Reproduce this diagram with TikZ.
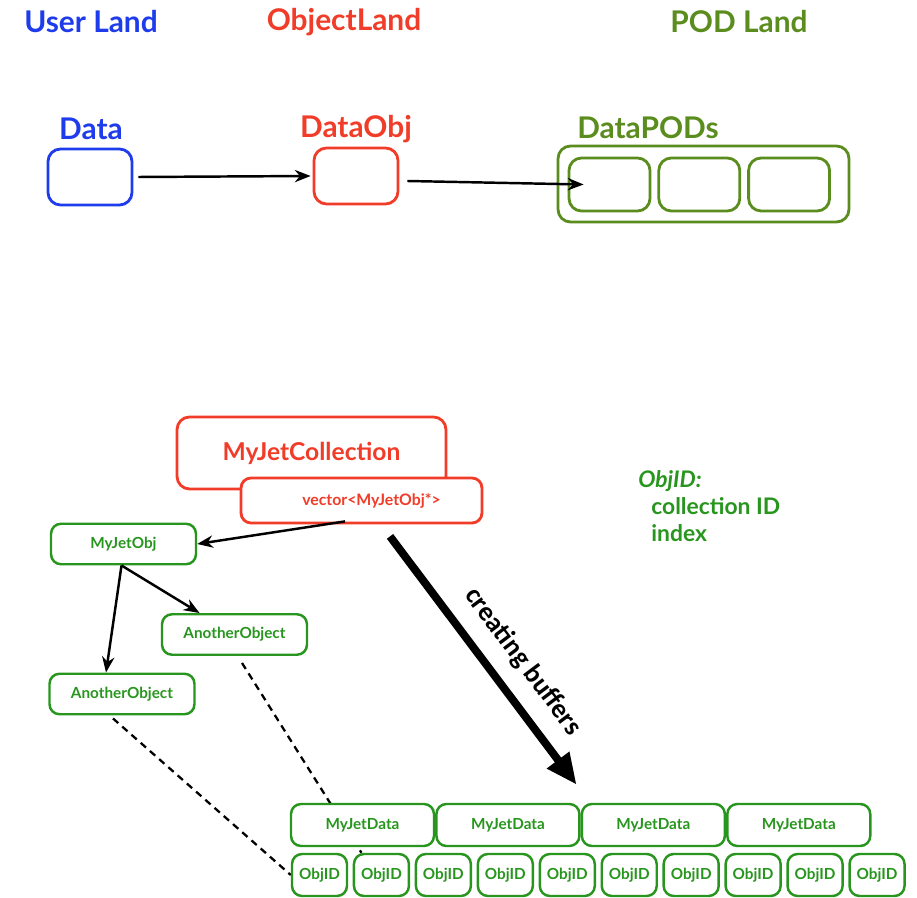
\documentclass[tikz,border=0pt]{standalone}
\usepackage{fontspec}
\setmainfont{Lato}
\newfontfamily\calfont{Carlito}
\usetikzlibrary{positioning, arrows.meta, backgrounds}

\definecolor{userblue}{RGB}{30,60,235}
\definecolor{objred}{RGB}{240,60,40}
\definecolor{podgreen}{RGB}{90,140,30}
\definecolor{jetgreen}{RGB}{40,150,30}

\begin{document}
\begin{tikzpicture}[x=0.02cm, y=-0.02cm,
	title/.style={font=\bfseries\fontsize{17}{19}\selectfont, inner sep=0pt},
	landbox/.style={draw, rounded corners=0.25cm, line width=1.6pt, minimum width=1.68cm, minimum height=1.12cm, fill=white},
	podbox/.style={landbox, draw=podgreen, minimum width=1.62cm, minimum height=1.06cm},
	jetbox/.style={draw=jetgreen, text=jetgreen, rounded corners=0.2cm, line width=1.4pt, fill=white, font=\bfseries\fontsize{8.7}{10}\selectfont, minimum width=2.9cm, minimum height=0.81cm},
	databox/.style={jetbox, minimum width=2.86cm, minimum height=0.84cm},
	idbox/.style={jetbox, minimum width=1.1cm, minimum height=0.84cm, inner sep=0pt},
	link/.style={-{Stealth[length=9pt,width=7pt]}, line width=1.4pt},
	dashlink/.style={dashed, line width=1.3pt, dash pattern=on 4pt off 3pt}]

	\useasboundingbox (0,0) rectangle (917,898);

	% Lands
	\node[title, userblue] (userland) at (91,22) {User Land};
	\node[title, objred] (objland) at (344,22) {ObjectLand};
	\node[title, podgreen] (podland) at (739,22) {POD Land};

	% Data, DataObj, DataPODs
	\node[landbox, draw=userblue] (data) at (90,177) {};
	\node[title, userblue] (datalbl) at (91,129) {Data};
	\node[landbox, draw=objred] (dataobj) at (356,176) {};
	\node[title, objred] (dataobjlbl) at (356,129) {DataObj};
	\node[landbox, draw=podgreen, minimum width=5.82cm, minimum height=1.52cm] (pods) at (703.5,184) {};
	\node[podbox] (pod1) at (609.5,184.5) {};
	\node[podbox, right=0.12cm of pod1] (pod2) {};
	\node[podbox, right=0.12cm of pod2] (pod3) {};
	\node[title, podgreen] (podslbl) at (648,128) {DataPODs};

	\draw[link] ([xshift=0.1cm]data.east) -- ([xshift=-0.04cm]dataobj.west);
	\draw[link] ([xshift=0.16cm,yshift=-0.1cm]dataobj.east) -- ([xshift=0.32cm]pod1.west);

	% Collection
	\node[landbox, draw=objred, text=objred, minimum width=5.38cm, minimum height=1.44cm, font=\bfseries\fontsize{14}{16}\selectfont] (coll) at (311.5,453) {MyJetCollection};
	\node[landbox, draw=objred, text=objred, minimum width=4.82cm, minimum height=0.9cm, rounded corners=0.2cm, font=\bfseries\fontsize{9}{10}\selectfont] (vec) at (361.5,500.5) {\hspace{0.4cm}vector<MyJetObj*>};

	% ObjID note
	\node[anchor=north west, align=left, text=jetgreen, font=\bfseries\fontsize{13}{15.5}\selectfont, inner sep=0pt] (objidnote) at (638,470) {\textit{ObjID:}\\\hspace{0.26cm}collection ID\\\hspace{0.26cm}index};

	% Objects
	\node[jetbox] (jetobj) at (123.5,544) {MyJetObj};
	\node[jetbox] (another1) at (234.5,634.5) {AnotherObject};
	\node[jetbox] (another2) at (122,694) {AnotherObject};

	\draw[link] ([xshift=-0.33cm,yshift=0.06cm]vec.south) -- (jetobj.east);
	\draw[link] ([xshift=-0.04cm]jetobj.south) -- ([xshift=-0.7cm]another1.north);
	\draw[link] ([xshift=-0.04cm]jetobj.south) -- ([xshift=-0.32cm]another2.north);

	% Buffers
	\node[databox] (data1) at (362.5,825) {MyJetData};
	\node[databox, right=0cm of data1] (data2) {MyJetData};
	\node[databox, right=0cm of data2] (data3) {MyJetData};
	\node[databox, right=0cm of data3] (data4) {MyJetData};

	\node[idbox] (id1) at (319.5,875) {ObjID};
	\node[idbox, right=0.09cm of id1] (id2) {ObjID};
	\node[idbox, right=0.09cm of id2] (id3) {ObjID};
	\node[idbox, right=0.09cm of id3] (id4) {ObjID};
	\node[idbox, right=0.09cm of id4] (id5) {ObjID};
	\node[idbox, right=0.09cm of id5] (id6) {ObjID};
	\node[idbox, right=0.09cm of id6] (id7) {ObjID};
	\node[idbox, right=0.09cm of id7] (id8) {ObjID};
	\node[idbox, right=0.09cm of id8] (id9) {ObjID};
	\node[idbox, right=0.09cm of id9] (id10) {ObjID};

	\begin{scope}[on background layer]
		\draw[dashlink] ([xshift=0.15cm,yshift=-0.14cm]another1.south) -- ([xshift=-0.4cm]id2.north);
		\draw[dashlink] ([xshift=-0.18cm,yshift=-0.06cm]another2.south) -- (id1.west);
	\end{scope}

	\draw[-{Triangle[length=0.62cm,width=0.52cm]}, line width=4.5pt] ([xshift=0.57cm,yshift=-0.24cm]vec.south) -- ([xshift=-0.08cm,yshift=0.36cm]data2.north east)
	node[pos=0.58, sloped, above=0.3cm, inner sep=0pt, font=\calfont\bfseries\fontsize{15.5}{17}\selectfont] (buflbl) {creating buffers};

\end{tikzpicture}
\end{document}
